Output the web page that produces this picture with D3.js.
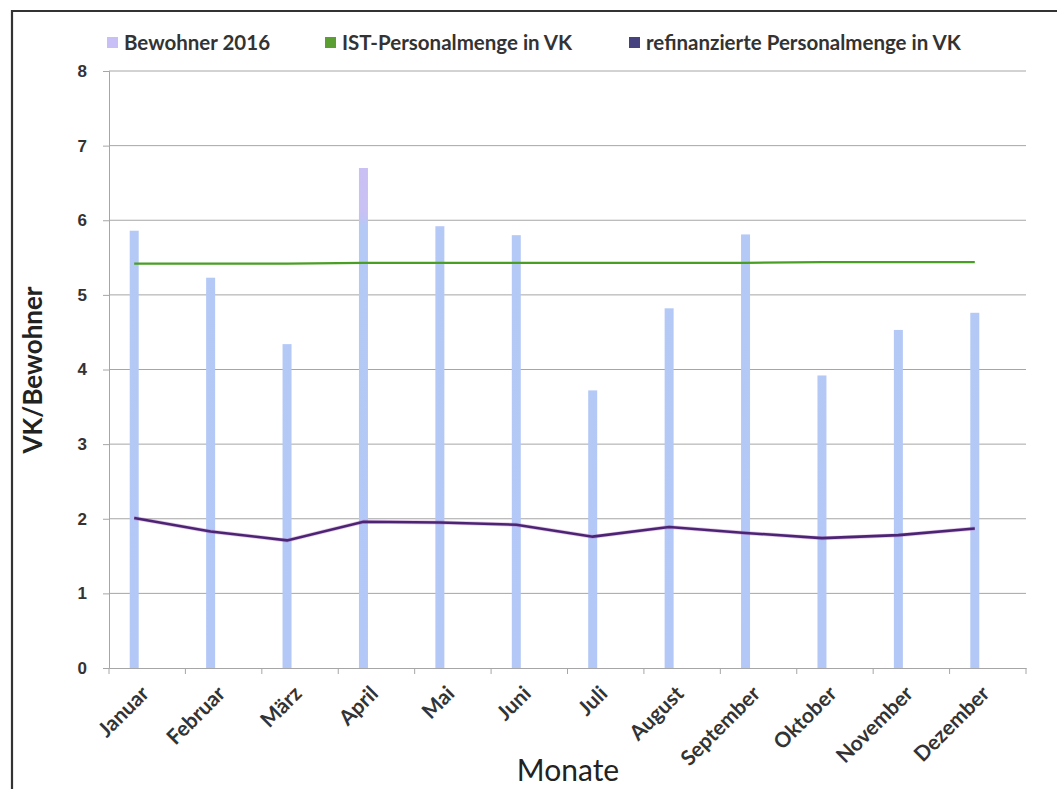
<!DOCTYPE html>
<html>
<head>
<meta charset="utf-8">
<script src="https://cdn.jsdelivr.net/npm/d3@7"></script>
<style>
  html, body { margin: 0; padding: 0; background: #fff; }
  svg { display: block; font-family: Lato, "Open Sans", sans-serif; }
</style>
</head>
<body>
<svg id="chart" width="1057" height="789"></svg>
<script>
// Monatsdaten 2016
const months = ["Januar", "Februar", "März", "April", "Mai", "Juni", "Juli",
                "August", "September", "Oktober", "November", "Dezember"];
const bewohner = [5.86, 5.23, 4.34, 6.70, 5.92, 5.80, 3.72, 4.82, 5.81, 3.92, 4.53, 4.76];
const istPersonal = [5.42, 5.42, 5.42, 5.43, 5.43, 5.43, 5.43, 5.43, 5.43, 5.44, 5.44, 5.44];
const refinanziert = [2.01, 1.83, 1.71, 1.96, 1.95, 1.92, 1.76, 1.89, 1.81, 1.74, 1.78, 1.87];
const yTicks = [0, 1, 2, 3, 4, 5, 6, 7, 8];
const seriesNames = ["Bewohner 2016", "IST-Personalmenge in VK", "refinanzierte Personalmenge in VK"];

const svg = d3.select("#chart");
const plot = { left: 109, right: 1026, top: 71, bottom: 668 };

// Äußerer Rahmen
svg.append("path")
  .attr("d", "M1057,11 H12 V789")
  .attr("fill", "none").attr("stroke", "#333").attr("stroke-width", 2.2);

const x = d3.scaleBand().domain(months).range([plot.left, plot.right]).padding(0);
const y = d3.scaleLinear().domain([0, 8]).range([plot.bottom, plot.top]);
const barW = 9;
const barX = m => x(m) + x.bandwidth() / 2 - 13;

// Verlauf für die Säulen (oberhalb von 6 lila getönt)
const defs = svg.append("defs");
const grad = defs.append("linearGradient").attr("id", "barFill")
  .attr("gradientUnits", "userSpaceOnUse")
  .attr("x1", 0).attr("x2", 0).attr("y1", y(8)).attr("y2", y(0));
grad.append("stop").attr("offset", 0).attr("stop-color", "#cbbff3");
grad.append("stop").attr("offset", 0.235).attr("stop-color", "#c9c0f4");
grad.append("stop").attr("offset", 0.26).attr("stop-color", "#b5c9f6");
grad.append("stop").attr("offset", 1).attr("stop-color", "#b3c8f6");

// Gitterlinien
svg.append("g").selectAll("line").data(yTicks.filter(d => d > 0)).join("line")
  .attr("x1", plot.left).attr("x2", plot.right)
  .attr("y1", d => y(d)).attr("y2", d => y(d))
  .attr("stroke", "#a6a6a6").attr("stroke-width", 1);

// Y-Achse
const yAxis = svg.append("g").attr("transform", `translate(${plot.left},0)`)
  .call(d3.axisLeft(y).tickValues(yTicks).tickSize(6).tickPadding(16).tickFormat(d3.format("d")));
yAxis.select(".domain").attr("stroke", "#a6a6a6");
yAxis.selectAll(".tick line").attr("stroke", "#a6a6a6");
yAxis.selectAll("text").attr("font-size", 17).attr("font-weight", 700).attr("fill", "#333");

// Säulen
svg.append("g").selectAll("rect").data(months).join("rect")
  .attr("x", m => barX(m) - barW / 2)
  .attr("width", barW)
  .attr("y", (m, i) => y(bewohner[i]))
  .attr("height", (m, i) => y(0) - y(bewohner[i]))
  .attr("fill", "url(#barFill)");

// X-Achse
const xAxis = svg.append("g").attr("transform", `translate(0,${plot.bottom})`)
  .call(d3.axisBottom(x).tickSize(0).tickFormat(""));
xAxis.select(".domain").attr("stroke", "#a6a6a6");
svg.append("g").selectAll("line").data(months.concat(["end"])).join("line")
  .attr("x1", (m, i) => plot.left + i * x.bandwidth())
  .attr("x2", (m, i) => plot.left + i * x.bandwidth())
  .attr("y1", plot.bottom).attr("y2", plot.bottom + 6)
  .attr("stroke", "#a6a6a6");
svg.append("g").selectAll("text").data(months).join("text")
  .attr("transform", m => `translate(${x(m) + x.bandwidth() / 2 + 3},${plot.bottom + 27}) rotate(-45)`)
  .attr("text-anchor", "end")
  .attr("font-size", 21).attr("font-weight", 700).attr("fill", "#333")
  .text(m => m);

// Linien
const lineGen = vals => d3.line().x((m, i) => barX(m)).y((m, i) => y(vals[i]))(months);
svg.append("path").attr("d", lineGen(istPersonal))
  .attr("fill", "none").attr("stroke", "#4a9e24").attr("stroke-width", 2.2);
svg.append("path").attr("d", lineGen(refinanziert))
  .attr("fill", "none").attr("stroke", "#b05ab8").attr("stroke-width", 4).attr("stroke-opacity", 0.35);
svg.append("path").attr("d", lineGen(refinanziert))
  .attr("fill", "none").attr("stroke", "#4b2574").attr("stroke-width", 2.6);

// Achsentitel
svg.append("text")
  .attr("transform", "translate(42,370) rotate(-90)")
  .attr("text-anchor", "middle")
  .attr("font-size", 26).attr("font-weight", 700).attr("fill", "#222")
  .text("VK/Bewohner");
svg.append("text")
  .attr("x", 568).attr("y", 781)
  .attr("text-anchor", "middle")
  .attr("font-size", 30).attr("fill", "#222")
  .text("Monate");

// Legende
const legendItems = [
  { name: seriesNames[0], color: "#c7bff5", x: 107 },
  { name: seriesNames[1], color: "#5b9e31", x: 325 },
  { name: seriesNames[2], color: "#464280", x: 629 }
];
const lg = svg.append("g").selectAll("g").data(legendItems).join("g")
  .attr("transform", d => `translate(${d.x},43)`);
lg.append("rect").attr("x", 0).attr("y", -6).attr("width", 11).attr("height", 11)
  .attr("fill", d => d.color);
lg.append("text").attr("x", 17).attr("y", 7)
  .attr("font-size", 20.5).attr("font-weight", 700).attr("fill", "#333")
  .text(d => d.name);
</script>
</body>
</html>
